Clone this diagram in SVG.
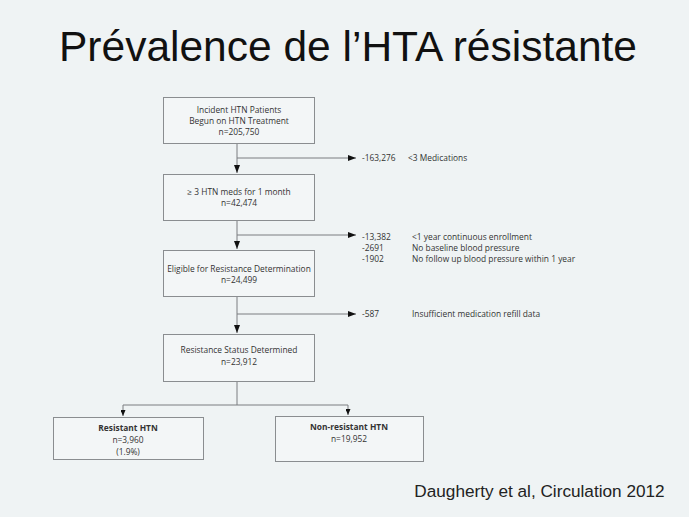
<svg xmlns="http://www.w3.org/2000/svg" width="689" height="517" viewBox="0 0 689 517">
<style>
.box{fill:#f3f6f7;stroke:#8a8d90;stroke-width:1}
.t{font-family:"Open Sans","Liberation Sans",sans-serif;font-size:8.4px;fill:#333;text-anchor:middle}
.l{font-family:"Open Sans","Liberation Sans",sans-serif;font-size:8.4px;fill:#333}
.b{font-weight:bold}
.ln{stroke:#7a7d80;stroke-width:1;fill:none}
</style>
<defs>
<marker id="ah" markerWidth="8" markerHeight="6" refX="8" refY="3" orient="auto" markerUnits="userSpaceOnUse">
<path d="M0,0 L8,3 L0,6 Z" fill="#111"/>
</marker>
<marker id="as" markerWidth="6" markerHeight="5" refX="6" refY="2.5" orient="auto" markerUnits="userSpaceOnUse">
<path d="M0,0 L6,2.5 L0,5 Z" fill="#111"/>
</marker>
</defs>
<rect width="689" height="517" fill="#eff3f4"/>
<text x="348" y="61" font-family="Liberation Sans, Arial, sans-serif" font-size="42.5" fill="#111" text-anchor="middle">Prévalence de l’HTA résistante</text>
<text x="539.5" y="497" font-family="Liberation Sans, Arial, sans-serif" font-size="17.2" fill="#222" text-anchor="middle">Daugherty et al, Circulation 2012</text>
<g id="connectors">
<line class="ln" x1="237" y1="143" x2="237" y2="173" marker-end="url(#ah)"/>
<line class="ln" x1="237" y1="158" x2="356" y2="158" marker-end="url(#ah)"/>
<line class="ln" x1="237" y1="220" x2="237" y2="249" marker-end="url(#ah)"/>
<line class="ln" x1="237" y1="235" x2="356" y2="235" marker-end="url(#ah)"/>
<line class="ln" x1="237" y1="296" x2="237" y2="333" marker-end="url(#ah)"/>
<line class="ln" x1="237" y1="314" x2="356" y2="314" marker-end="url(#ah)"/>
<line class="ln" x1="237" y1="381" x2="237" y2="405"/>
<line class="ln" x1="123" y1="405" x2="348" y2="405"/>
<line class="ln" x1="123" y1="405" x2="123" y2="416" marker-end="url(#as)"/>
<line class="ln" x1="348" y1="405" x2="348" y2="415" marker-end="url(#as)"/>
</g>
<g id="n1">
<rect class="box" x="163.5" y="97.5" width="151" height="46"/>
<text class="t" x="239" y="113">Incident HTN Patients</text>
<text class="t" x="239" y="124">Begun on HTN Treatment</text>
<text class="t" x="239" y="135">n=205,750</text>
</g>
<g id="n2">
<rect class="box" x="163.5" y="174.5" width="151" height="46"/>
<text class="t" x="239" y="195">≥ 3 HTN meds for 1 month</text>
<text class="t" x="239" y="206">n=42,474</text>
</g>
<g id="n3">
<rect class="box" x="163.5" y="250.5" width="151" height="46"/>
<text class="t" x="239" y="272">Eligible for Resistance Determination</text>
<text class="t" x="239" y="283">n=24,499</text>
</g>
<g id="n4">
<rect class="box" x="163.5" y="334.5" width="151" height="47"/>
<text class="t" x="239" y="353">Resistance Status Determined</text>
<text class="t" x="239" y="365">n=23,912</text>
</g>
<g id="n5">
<rect class="box" x="53.5" y="417.5" width="150" height="42"/>
<text class="t b" x="128" y="431">Resistant HTN</text>
<text class="t" x="128" y="443">n=3,960</text>
<text class="t" x="128" y="455">(1.9%)</text>
</g>
<g id="n6">
<rect class="box" x="275.5" y="416.5" width="148" height="45"/>
<text class="t b" x="349" y="430">Non-resistant HTN</text>
<text class="t" x="349" y="442">n=19,952</text>
</g>
<g id="excl1">
<text class="l" x="362" y="161">-163,276</text>
<text class="l" x="408" y="161">&lt;3 Medications</text>
</g>
<g id="excl2">
<text class="l" x="362" y="240">-13,382</text>
<text class="l" x="412" y="240">&lt;1 year continuous enrollment</text>
<text class="l" x="362" y="251">-2691</text>
<text class="l" x="412" y="251">No baseline blood pressure</text>
<text class="l" x="362" y="262">-1902</text>
<text class="l" x="412" y="262">No follow up blood pressure within 1 year</text>
</g>
<g id="excl3">
<text class="l" x="362" y="317">-587</text>
<text class="l" x="412" y="317">Insufficient medication refill data</text>
</g>
</svg>
